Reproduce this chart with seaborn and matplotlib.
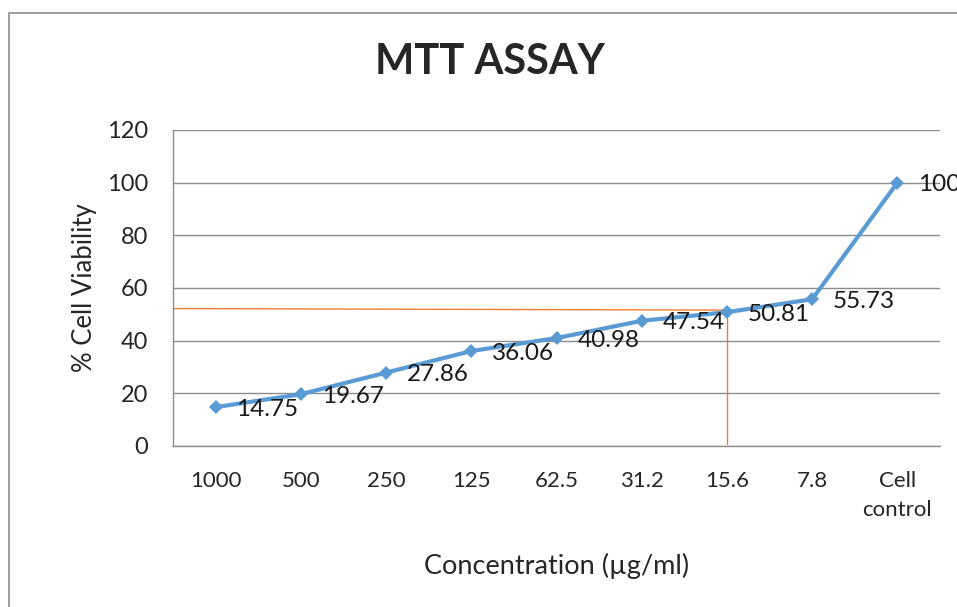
import numpy as np
import pandas as pd
import matplotlib
matplotlib.use("Agg")
import matplotlib.pyplot as plt
import seaborn as sns

# données
concentrations = ["1000", "500", "250", "125", "62.5", "31.2", "15.6", "7.8", "Cell\ncontrol"]
viability = [14.75, 19.67, 27.86, 36.06, 40.98, 47.54, 50.81, 55.73, 100]
ic50_level = 52.2
ic50_index = 6  # 15.6 µg/ml

sns.set_style("white")
plt.rcParams["font.family"] = ["Lato", "DejaVu Sans"]

df = pd.DataFrame({"pos": np.arange(len(concentrations)), "viability": viability})

fig = plt.figure(figsize=(9.57, 6.07), dpi=100)
ax = fig.add_axes([173 / 957, 1 - 446 / 607, (940 - 173) / 957, (446 - 130) / 607])

# cadre extérieur du graphique
fig.patches.append(plt.Rectangle((9 / 957, -0.1), 1.2, 1 - 13 / 607 + 0.1,
                                 transform=fig.transFigure, fill=False,
                                 edgecolor="#8c8c8c", linewidth=1.2, zorder=0))

sns.lineplot(data=df, x="pos", y="viability", ax=ax, color="#5B9BD5",
             linewidth=3, marker="D", markersize=7, markeredgewidth=0, zorder=3)

# lignes de repère orange
ax.plot([-0.5, ic50_index], [ic50_level, ic50_level - 0.6], color="#ED7D31", linewidth=1, zorder=2)
ax.plot([ic50_index, ic50_index], [ic50_level - 0.6, 0.6], color="#ED7D31", linewidth=1, zorder=2)

for i, v in enumerate(viability):
    ax.annotate(f"{v:g}", (i, v), xytext=(15, -1.5), textcoords="offset points",
                ha="left", va="center", fontsize=17.5, color="#1a1a1a",
                annotation_clip=False, zorder=4)

ax.set_xlim(-0.5, len(concentrations) - 0.5)
ax.set_ylim(0, 120)
ax.set_yticks(range(0, 121, 20))
ax.set_xticks(df["pos"])
ax.set_xticklabels(concentrations, fontsize=16, linespacing=1.55)
ax.tick_params(axis="y", labelsize=17, length=0, pad=18)
ax.tick_params(axis="x", length=0, pad=18)
ax.yaxis.grid(True, color="#8c8c8c", linewidth=1)
ax.set_axisbelow(True)
for side in ["top", "right"]:
    ax.spines[side].set_visible(False)
for side in ["left", "bottom"]:
    ax.spines[side].set_color("#8c8c8c")
    ax.spines[side].set_linewidth(1)

ax.set_xlabel("Concentration (µg/ml)", fontsize=19.5, labelpad=24)
ax.set_ylabel("% Cell Viability", fontsize=18.5, labelpad=7)
fig.text(490 / 957, 1 - 62 / 607, "MTT ASSAY", ha="center", va="center",
         fontsize=30, fontweight="bold")

fig.savefig("out.png", dpi=100)
